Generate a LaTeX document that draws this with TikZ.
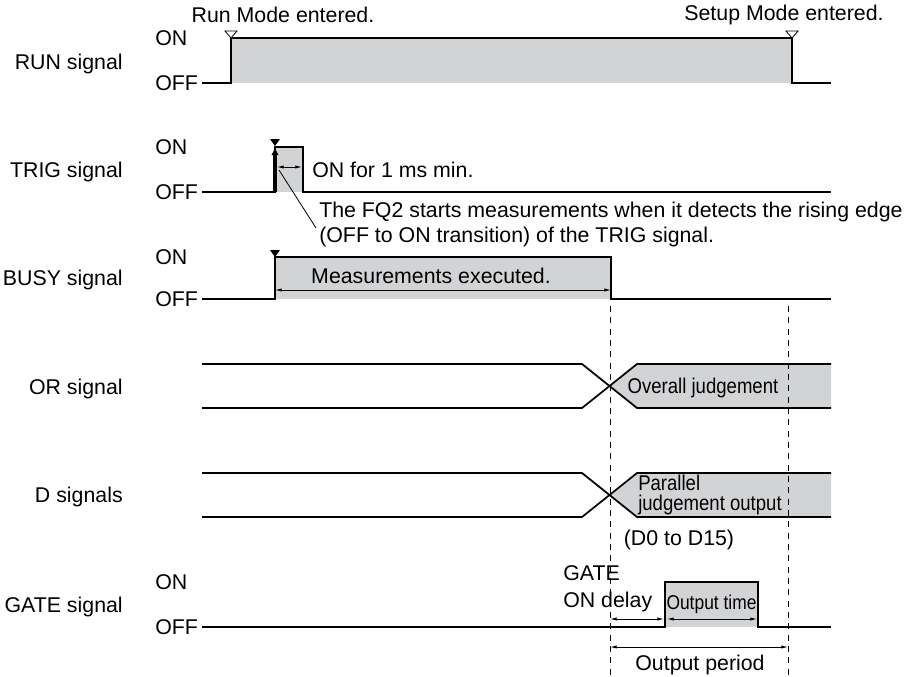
\documentclass[tikz,border=0pt]{standalone}
\usepackage{fontspec}
\setmainfont{Liberation Sans}
\newfontfamily\narrowfont{Liberation Sans}[FakeStretch=0.87]
\usetikzlibrary{arrows.meta}
\definecolor{wavegray}{RGB}{210,211,213}
\tikzset{
    wave/.style={line width=1.3pt},
    dimarrow/.style={line width=0.6pt,{Latex[length=5pt,width=2.4pt]}-{Latex[length=5pt,width=2.4pt]}},
    guide/.style={line width=0.7pt,dash pattern=on 4.5pt off 4pt},
    lbl/.style={inner sep=0pt},
    nlbl/.style={inner sep=0pt,font=\narrowfont\fontsize{16}{15.5}\selectfont}
}
\begin{document}
\begin{tikzpicture}[x=0.75pt,y=-0.75pt,font=\fontsize{16}{18.75}\selectfont]
            \useasboundingbox (0,0) rectangle (904,676);
            \foreach \y/\txt in {62/RUN signal,170/TRIG signal,278/BUSY signal,387/OR signal,495/D signals,605/GATE signal}
            \node[lbl,anchor=base east] (name\y) at (123,\y+7.5) {\txt};
            \foreach \y/\lev in {38/ON,83/OFF,147/ON,192/OFF,257/ON,299/OFF,582/ON,627/OFF}
            \node[lbl,anchor=base west] (lev\y) at (155,\y+7.5) {\lev};
            \fill[wavegray] (231,38) rectangle (792,83);
            \fill[wavegray] (275,147) rectangle (303,192);
            \fill[wavegray] (275,257) rectangle (611,299);
            \fill[wavegray] (665,582) rectangle (758,627);
            \foreach \y in {364,473}
            \fill[wavegray] (610,\y+22) -- (637,\y) -- (831,\y) -- (831,\y+44) -- (637,\y+44) -- cycle;
            \draw[wave] (202,83) -- (231,83) -- (231,38) -- (792,38) -- (792,83) -- (831,83);
            \draw[wave] (202,192) -- (275,192) -- (275,147) -- (303,147) -- (303,192) -- (831,192);
            \draw[wave] (202,299) -- (275,299) -- (275,257) -- (611,257) -- (611,299) -- (831,299);
            \draw[wave] (202,627) -- (665,627) -- (665,582) -- (758,582) -- (758,627) -- (831,627);
            \foreach \y in {364,473} {
                \draw[wave] (202,\y) -- (582,\y) -- (637,\y+44) -- (831,\y+44);
                \draw[wave] (202,\y+44) -- (582,\y+44) -- (637,\y) -- (831,\y);
            }
            \foreach \x in {231,792}
            \filldraw[line width=0.6pt,fill=white] (\x-6,31) -- (\x+6,31) -- (\x,38) -- cycle;
            \fill (270,139) -- (280,139) -- (275,146) -- cycle;
            \fill (270,250) -- (280,250) -- (275,257) -- cycle;
            \draw[line width=2.3pt,-{Latex[length=6pt,width=5.5pt]}] (275,192) -- (275,147);
            \foreach \x in {610,788}
            \draw[guide] (\x,306) -- (\x,676);
            \node[lbl] (runmode) at (283,15) {Run Mode entered.};
            \node[lbl] (setupmode) at (784,15) {Setup Mode entered.};
            \draw[dimarrow] (277,167) -- (302,167);
            \node[lbl,anchor=base west] (minon) at (312,177.5) {ON for 1 ms min.};
            \node[lbl,anchor=north west,align=left] (fq2note) at (319,202) {The FQ2 starts measurements when it detects the rising edge\\(OFF to ON transition) of the TRIG signal.};
            \coordinate (risetip) at (279,170);
            \draw[line width=0.6pt] (risetip) -- (316,228);
            \draw[dimarrow] (275,290) -- (611,290);
            \node[lbl,anchor=base] (measured) at (431,283.5) {Measurements executed.};
            \node[nlbl,anchor=base] (overall) at (703,393.5) {Overall judgement};
            \node[nlbl,anchor=west,align=left] (parallel) at (638,495) {Parallel\\judgement output};
            \node[lbl,anchor=base] (dbits) at (679,545.5) {(D0 to D15)};
            \node[lbl,anchor=west,align=left,font=\fontsize{16}{20.25}\selectfont] (gatedelay) at (563,589) {GATE\\ON delay};
            \draw[dimarrow] (610,619) -- (664,619);
            \draw[dimarrow] (667,619) -- (757,619);
            \node[nlbl,anchor=base,font=\narrowfont\fontsize{15}{15}\selectfont] (outtime) at (711.5,609) {Output time};
            \draw[dimarrow] (610,647) -- (788,647);
            \node[lbl,anchor=base] (outperiod) at (700,670) {Output period};
        \end{tikzpicture}
\end{document}
